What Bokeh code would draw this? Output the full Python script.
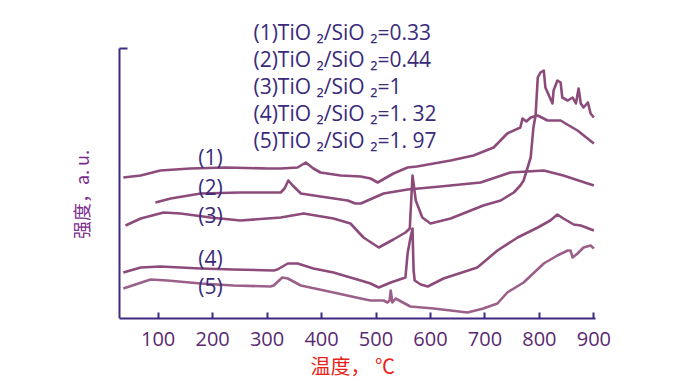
import math
from bokeh.plotting import figure
from bokeh.models import Range1d, FixedTicker, Title
from bokeh.core.properties import value
from bokeh.embed import file_html
from bokeh.resources import INLINE

# ---- data: temperature (°C) vs intensity (a.u.) ----
t1 = [36, 68, 104, 159, 224, 301, 325, 356, 371, 385, 398, 435, 472, 490, 503, 532, 558, 575, 637, 679, 716, 741, 765, 769, 776, 784, 797, 815, 839, 848, 870, 900]
i1 = [141, 143, 148, 150, 151, 150, 150, 151, 156, 150, 146, 143, 142, 140, 136, 145, 151, 152, 158, 163, 171, 185, 191, 200, 197, 201, 203, 198, 198, 195, 188, 175]

t2 = [95, 123, 178, 251, 325, 332, 339, 347, 362, 398, 448, 462, 472, 514, 558, 618, 692, 747, 808, 844, 900]
i2 = [116, 120, 125, 126, 126, 130, 138, 133, 125, 122, 118, 115, 115, 125, 129, 132, 136, 146, 148, 143, 133]

t3 = [40, 68, 110, 141, 196, 251, 325, 367, 422, 453, 477, 505, 532, 554, 562, 567, 573, 585, 600, 637, 697, 729, 753, 765, 771, 784, 789, 793, 797, 802, 808, 811, 824, 826, 833, 839, 842, 852, 861, 867, 872, 876, 881, 889, 894, 900]
i3 = [93, 100, 106, 105, 101, 98, 101, 105, 100, 95, 81, 71, 79, 86, 90, 143, 118, 101, 95, 100, 113, 118, 126, 133, 138, 161, 191, 203, 241, 246, 248, 231, 215, 228, 238, 236, 221, 218, 221, 215, 230, 215, 211, 216, 205, 201]

t4 = [36, 68, 104, 178, 238, 312, 319, 338, 356, 385, 422, 453, 472, 490, 505, 527, 554, 558, 563, 567, 569, 571, 582, 595, 624, 686, 723, 760, 797, 820, 833, 844, 863, 876, 900]
i4 = [46, 51, 52, 50, 49, 48, 49, 55, 55, 50, 46, 41, 38, 35, 31, 36, 41, 65, 80, 90, 48, 38, 34, 32, 40, 51, 68, 81, 91, 98, 104, 100, 94, 93, 88]

t5 = [36, 86, 117, 178, 238, 306, 312, 328, 338, 362, 422, 472, 490, 514, 521, 525, 527, 530, 536, 563, 606, 668, 697, 723, 741, 771, 808, 833, 852, 857, 861, 870, 881, 894, 900]
i5 = [30, 39, 38, 35, 33, 32, 33, 41, 40, 33, 26, 20, 18, 18, 16, 18, 28, 16, 20, 12, 10, 6, 10, 15, 26, 36, 55, 63, 68, 68, 61, 65, 71, 73, 70]

series = [(t1, i1), (t2, i2), (t3, i3), (t4, i4), (t5, i5)]
curve_tags = ["(1)", "(2)", "(3)", "(4)", "(5)"]
ratios = ["0.33", "0.44", "1", "1. 32", "1. 97"]
x_ticks = [100, 200, 300, 400, 500, 600, 700, 800, 900]
x_lo, x_hi = 29, 903
i_top = 270

# ---- styling ----
CURVE = "#8c4b7a"
CURVE5 = "#9a6089"
AXIS = "#3e2a80"
TICKLBL = "#5a2a70"
NAVY = "#3a2a7a"
RED = "#e8231a"

# frame starts left of the y axis so that the rotated axis title can live inside it
px_per_unit = 476 / (x_hi - x_lo)
left_pad = 59 / px_per_unit

p = figure(width=700, height=381, output_backend="svg", toolbar_location=None,
           x_range=Range1d(x_lo - left_pad, x_hi), y_range=Range1d(0, 308),
           min_border_left=60, min_border_right=105, min_border_top=10, min_border_bottom=63)
p.outline_line_color = None
p.grid.visible = False
p.background_fill_color = "white"

xa = p.xaxis[0]
xa.ticker = FixedTicker(ticks=x_ticks)
xa.bounds = (x_lo, x_hi)
xa.axis_line_color = AXIS
xa.axis_line_width = 2
xa.major_tick_line_color = AXIS
xa.major_tick_line_width = 2
xa.major_tick_in = 6
xa.major_tick_out = 0
xa.minor_tick_line_color = None
xa.major_label_text_font = "Open Sans"
xa.major_label_text_font_size = "20px"
xa.major_label_text_color = TICKLBL
xa.major_label_standoff = 13

# x axis title, centred under the axis itself (not under the wider frame)
xtitle = Title(text="温度，  ℃", align="left", offset=250, standoff=0,
               text_font="Noto Sans CJK SC", text_font_size="20px",
               text_font_style="normal", text_color=RED)
p.add_layout(xtitle, "below")

ya = p.yaxis[0]
ya.fixed_location = x_lo
ya.ticker = FixedTicker(ticks=[i_top])
ya.bounds = (0, i_top)
ya.axis_line_color = AXIS
ya.axis_line_width = 2
ya.major_tick_line_color = AXIS
ya.major_tick_line_width = 2
ya.major_tick_in = 8
ya.major_tick_out = 0
ya.minor_tick_line_color = None
ya.major_label_text_color = None
ya.major_label_standoff = 0

for k, (t, i) in enumerate(series):
    p.line(t, i, line_color=CURVE5 if k == 4 else CURVE, line_width=2.6, line_join="round")

# curve tags
tag_x = 196
tag_y = [162, 132, 104, 61, 33]
p.text(x=[tag_x] * 5, y=tag_y, text=curve_tags, text_font=value("Open Sans"),
       text_font_size="21px", text_color=NAVY, text_align="center", text_baseline="middle")

# legend block
leg_x = 275
leg_top = 287
leg_step = 27
leg_text = [f"{c}TiO  ₂/SiO ₂={r}" for c, r in zip(curve_tags, ratios)]
p.text(x=[leg_x] * 5, y=[leg_top - k * leg_step for k in range(5)], text=leg_text,
       text_font=value("Open Sans"), text_font_size="21px", text_color=NAVY,
       text_align="left", text_baseline="middle")

# y axis title (rotated), placed left of the axis line
p.text(x=[x_lo - 39 / px_per_unit], y=[124], text=["强度，a. u."], angle=math.pi / 2,
       text_font=value("Noto Sans CJK SC"), text_font_size="18px", text_color="#7b2d8e",
       text_align="center", text_baseline="middle")

open("out.html", "w").write(file_html(p, INLINE))
